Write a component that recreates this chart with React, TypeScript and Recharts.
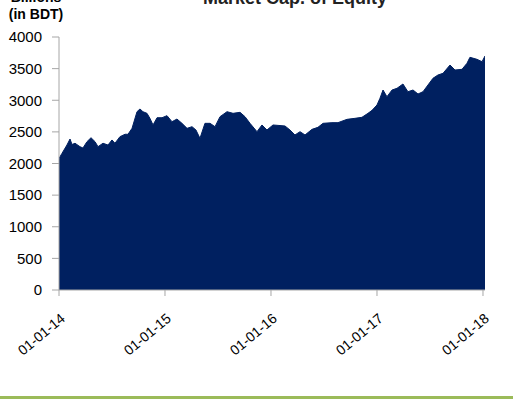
import React from "react";
import { AreaChart, Area, XAxis, YAxis } from "recharts";

// time in fractional years, values in billions BDT
const timeYears = [
  2014.0, 2014.028, 2014.047, 2014.075, 2014.104, 2014.123, 2014.151, 2014.198, 2014.226, 2014.264,
  2014.302, 2014.34, 2014.368, 2014.415, 2014.462, 2014.5, 2014.528, 2014.575, 2014.623, 2014.651,
  2014.689, 2014.736, 2014.764, 2014.792, 2014.83, 2014.858, 2014.887, 2014.925, 2014.972,
  2015.019, 2015.066, 2015.113, 2015.16, 2015.208, 2015.255, 2015.292, 2015.33, 2015.377, 2015.425,
  2015.472, 2015.519, 2015.585, 2015.642, 2015.708, 2015.755, 2015.802, 2015.868, 2015.915, 2015.962,
  2016.019, 2016.085, 2016.132, 2016.179, 2016.226, 2016.274, 2016.321, 2016.387, 2016.443, 2016.491,
  2016.575, 2016.632, 2016.717, 2016.792, 2016.858, 2016.915, 2016.953,
  2017.0, 2017.028, 2017.057, 2017.094, 2017.142, 2017.189, 2017.245, 2017.292, 2017.34, 2017.387,
  2017.434, 2017.481, 2017.528, 2017.575, 2017.623, 2017.689, 2017.736, 2017.802, 2017.849, 2017.877,
  2017.943, 2017.991, 2018.019,
];

const marketCap = [
  2080, 2160, 2213, 2292, 2387, 2300, 2320, 2266, 2245, 2345,
  2408, 2345, 2266, 2320, 2292, 2372, 2320, 2424, 2462, 2462,
  2556, 2819, 2862, 2819, 2793, 2714, 2609, 2724, 2724,
  2756, 2661, 2703, 2635, 2556, 2582, 2530, 2398, 2635, 2635,
  2582, 2740, 2819, 2793, 2809, 2740, 2635, 2503, 2609, 2530,
  2609, 2600, 2593, 2530, 2451, 2503, 2451, 2540, 2572, 2635,
  2646, 2646, 2698, 2714, 2730, 2793, 2840,
  2925, 3031, 3162, 3056, 3162, 3189, 3257, 3135, 3162, 3099,
  3135, 3241, 3347, 3399, 3426, 3557, 3478, 3489, 3584, 3679,
  3647, 3610, 3700,
];

const xTicks = [2014, 2015, 2016, 2017, 2018];
const xTickLabels = ["01-01-14", "01-01-15", "01-01-16", "01-01-17", "01-01-18"];
const yTicks = [0, 500, 1000, 1500, 2000, 2500, 3000, 3500, 4000];

const title = "Market Cap. of Equity";
const unitLine1 = "Billions";
const unitLine2 = "(in BDT)";

const data = timeYears.map((t, i) => ({ t, v: marketCap[i] }));

const XTick = (props: any) => {
  const { x, payload } = props;
  const idx = xTicks.indexOf(payload.value);
  const label = idx >= 0 ? xTickLabels[idx] : String(payload.value);
  const ax = x + 7;
  const ay = 320;
  return (
    <text
      x={ax}
      y={ay}
      textAnchor="end"
      fontSize={14}
      fontFamily="Liberation Sans, Arial, sans-serif"
      fill="#000"
      transform={`rotate(-40, ${ax}, ${ay})`}
    >
      {label}
    </text>
  );
};

export default function App() {
  return (
    <div
      style={{
        position: "absolute",
        left: 0,
        top: 0,
        width: 513,
        height: 401,
        background: "#fff",
        overflow: "hidden",
      }}
    >
      <div
        style={{
          position: "absolute",
          left: 0,
          width: 590,
          top: -12,
          textAlign: "center",
          fontFamily: "Liberation Sans, Arial, sans-serif",
          fontWeight: "bold",
          fontSize: 18,
          color: "#222",
          lineHeight: "20px",
        }}
      >
        {title}
      </div>
      <div
        style={{
          position: "absolute",
          left: 0,
          width: 72,
          top: -11,
          textAlign: "center",
          fontFamily: "Liberation Sans, Arial, sans-serif",
          fontWeight: "bold",
          fontSize: 14,
          color: "#000",
          lineHeight: "17px",
        }}
      >
        <div>{unitLine1}</div>
        <div>{unitLine2}</div>
      </div>
      <AreaChart
        width={513}
        height={401}
        data={data}
        margin={{ top: 37, right: 28, bottom: 11, left: 0 }}
      >
        <XAxis
          dataKey="t"
          type="number"
          domain={[2014, 2018.019]}
          ticks={xTicks}
          interval={0}
          tick={<XTick />}
          tickSize={6}
          height={100}
          stroke="#a6a6a6"
          allowDataOverflow
        />
        <YAxis
          type="number"
          domain={[0, 4000]}
          ticks={yTicks}
          interval={0}
          width={59}
          tickSize={7}
          tickMargin={10}
          stroke="#a6a6a6"
          tick={{ fill: "#000", fontSize: 15, fontFamily: "Liberation Sans, Arial, sans-serif" }}
        />
        <Area
          type="linear"
          dataKey="v"
          stroke="#002060"
          strokeWidth={1}
          fill="#002060"
          fillOpacity={1}
          isAnimationActive={false}
          dot={false}
          activeDot={false}
        />
      </AreaChart>
      <div
        style={{
          position: "absolute",
          left: 0,
          top: 396,
          width: 513,
          height: 3,
          background: "#9bbb59",
        }}
      />
    </div>
  );
}
